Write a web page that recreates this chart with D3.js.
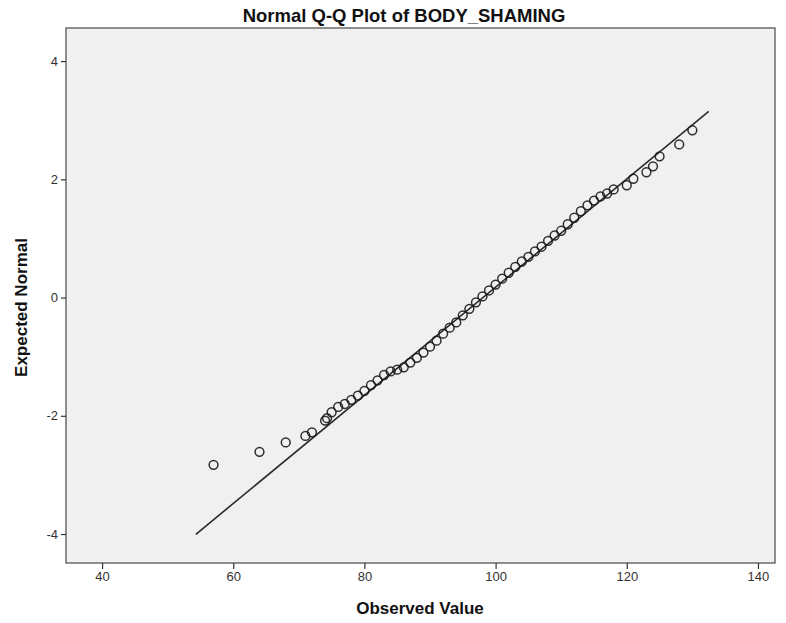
<!DOCTYPE html>
<html>
<head>
<meta charset="utf-8">
<script src="https://cdn.jsdelivr.net/npm/d3@7"></script>
<style>
  html, body { margin: 0; padding: 0; background: #ffffff; }
  svg { display: block; }
  text { font-family: "Liberation Sans", Arial, sans-serif; }
</style>
</head>
<body>
<div id="chart"></div>
<script>
// Observed values (distinct) and their expected normal scores
const observed = [57, 64, 68, 71, 72, 74, 74.3, 75, 76, 77, 78, 79, 80, 81, 82, 83, 84, 85, 86, 87, 88, 89, 90,
  91, 92, 93, 94, 95, 96, 97, 98, 99, 100, 101, 102, 103, 104, 105, 106, 107, 108, 109, 110,
  111, 112, 113, 114, 115, 116, 117, 118, 120, 121, 123, 124, 125, 128, 130];
const expected = [-2.83, -2.61, -2.45, -2.34, -2.28, -2.08, -2.04, -1.94, -1.85, -1.80, -1.73, -1.66, -1.58,
  -1.48, -1.40, -1.31, -1.25, -1.22, -1.18, -1.10, -1.02, -0.93, -0.83,
  -0.73, -0.61, -0.51, -0.42, -0.30, -0.19, -0.08, 0.02, 0.12, 0.22, 0.32, 0.42, 0.52, 0.61, 0.69, 0.78, 0.86, 0.96, 1.05, 1.13,
  1.24, 1.35, 1.46, 1.56, 1.64, 1.71, 1.76, 1.83, 1.90, 2.01, 2.12, 2.22, 2.39, 2.59, 2.83];

// Reference normal line parameters
const lineMean = 98.07;
const lineSD = 10.93;
const lineObserved = [54.3, 132.5];

const xTicks = [40, 60, 80, 100, 120, 140];
const yTicks = [-4, -2, 0, 2, 4];

const title = "Normal Q-Q Plot of BODY_SHAMING";
const xLabel = "Observed Value";
const yLabel = "Expected Normal";

const W = 786, H = 623;
const plot = { left: 66, top: 28, right: 775, bottom: 563 };

const svg = d3.select("#chart").append("svg").attr("width", W).attr("height", H);

const x = d3.scaleLinear().domain([34.5, 142.6]).range([plot.left, plot.right]);
const y = d3.scaleLinear().domain([-4.49, 4.56]).range([plot.bottom, plot.top]);

// plot background
svg.append("rect")
  .attr("x", plot.left).attr("y", plot.top)
  .attr("width", plot.right - plot.left).attr("height", plot.bottom - plot.top)
  .attr("fill", "#f0f0f0");

svg.append("clipPath").attr("id", "clip").append("rect")
  .attr("x", plot.left).attr("y", plot.top)
  .attr("width", plot.right - plot.left).attr("height", plot.bottom - plot.top);

// reference line
const lineData = lineObserved.map(v => ({ x: v, z: (v - lineMean) / lineSD }));
svg.append("path")
  .datum(lineData)
  .attr("clip-path", "url(#clip)")
  .attr("d", d3.line().x(d => x(d.x)).y(d => y(d.z)))
  .attr("fill", "none")
  .attr("stroke", "#2a2a2a")
  .attr("stroke-width", 1.6);

// points
const pts = observed.map((v, i) => ({ x: v, z: expected[i] }));
svg.append("g").attr("clip-path", "url(#clip)")
  .selectAll("circle").data(pts).join("circle")
  .attr("cx", d => x(d.x)).attr("cy", d => y(d.z))
  .attr("r", 4.4)
  .attr("fill", "none")
  .attr("stroke", "#1a1a1a")
  .attr("stroke-width", 1.5)
  .attr("stroke-opacity", 0.9);

// frame
svg.append("rect")
  .attr("x", plot.left).attr("y", plot.top)
  .attr("width", plot.right - plot.left).attr("height", plot.bottom - plot.top)
  .attr("fill", "none").attr("stroke", "#555").attr("stroke-width", 1.3);

// axes
const fmt = d => String(d);
const xAxis = d3.axisBottom(x).tickValues(xTicks).tickFormat(fmt).tickSize(6).tickSizeOuter(0).tickPadding(3);
const gx = svg.append("g").attr("transform", `translate(0,${plot.bottom})`).call(xAxis);
gx.select(".domain").remove();
gx.selectAll("line").attr("stroke", "#333").attr("stroke-width", 1.2);
gx.selectAll("text").attr("fill", "#333").style("font-size", "13px");

const yAxis = d3.axisLeft(y).tickValues(yTicks).tickFormat(fmt).tickSize(5).tickSizeOuter(0).tickPadding(3);
const gy = svg.append("g").attr("transform", `translate(${plot.left},0)`).call(yAxis);
gy.select(".domain").remove();
gy.selectAll("line").attr("stroke", "#333").attr("stroke-width", 1.2);
gy.selectAll("text").attr("fill", "#333").style("font-size", "13px");

// title
svg.append("text")
  .attr("x", 404).attr("y", 22)
  .attr("text-anchor", "middle")
  .style("font-size", "18.5px").style("font-weight", "bold")
  .attr("fill", "#111")
  .text(title);

// x label
svg.append("text")
  .attr("x", 420).attr("y", 614)
  .attr("text-anchor", "middle")
  .style("font-size", "17px").style("font-weight", "bold")
  .attr("fill", "#111")
  .text(xLabel);

// y label
svg.append("text")
  .attr("transform", `translate(27,${(plot.top + plot.bottom) / 2 + 12}) rotate(-90)`)
  .attr("text-anchor", "middle")
  .style("font-size", "17px").style("font-weight", "bold")
  .attr("fill", "#111")
  .text(yLabel);
</script>
</body>
</html>
